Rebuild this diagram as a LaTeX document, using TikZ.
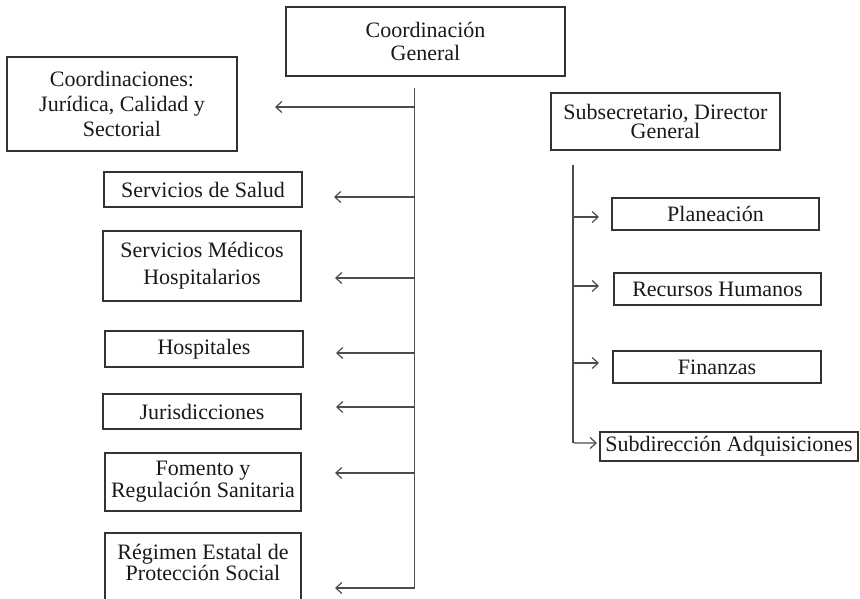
\documentclass[tikz,border=0pt]{standalone}
\usepackage{fontspec}
\setmainfont{Liberation Serif}
\usetikzlibrary{arrows.meta}
\begin{document}
\begin{tikzpicture}[x=1pt,y=-1pt,
  box/.style={draw=black!80, line width=1.1pt, inner sep=0pt, align=center, text=black!90},
  boxline/.style={draw=black!80, line width=1.1pt},
  txt/.style={inner sep=0pt, align=center, text=black!90},
  fs/.style={font=\fontsize{22}{#1}\selectfont},
  trunk/.style={draw=black!70, line width=1.4pt},
  arr/.style={draw=black!70, line width=1.2pt, -{Straight Barb[length=6pt,width=11pt,line width=1.2pt]}}]
\useasboundingbox (0,0) rectangle (860,598);
\fill[white] (0,0) rectangle (860,598);

% top box
\node[box, fs=23, minimum width=279pt, minimum height=69pt] (cg) at (425.5,41.5) {Coordinación\\General};

% left column
\node[box, fs=25, minimum width=230pt, minimum height=94pt] (coord) at (122,104) {Coordinaciones:\\Jurídica, Calidad y\\Sectorial};
\node[box, fs=24, minimum width=198pt, minimum height=35pt] (sal) at (203,189.5) {Servicios de Salud};
\node[box, fs=27, minimum width=198pt, minimum height=70pt] (med) at (202,266) {Servicios Médicos\\Hospitalarios};
\node[box, fs=24, minimum width=198pt, minimum height=36pt] (hos) at (204,349) {Hospitales};
\node[box, fs=24, minimum width=198pt, minimum height=35pt] (jur) at (202,411.5) {Jurisdicciones};
\node[box, fs=22, minimum width=196pt, minimum height=58pt] (fom) at (203,482) {Fomento y\\Regulación Sanitaria};
\node[txt, fs=21] (reg) at (203,562) {Régimen Estatal de\\Protección Social};
\draw[boxline] (105,606) |- (301,533) -- (301,606);

% right column
\node[box, fs=15, minimum width=229pt, minimum height=57pt] (sub) at (665.5,121.5) {Subsecretario, Director\\General};
\node[box, fs=24, minimum width=207pt, minimum height=32pt] (pla) at (715.5,214) {Planeación};
\node[box, fs=24, minimum width=207pt, minimum height=32pt] (rec) at (717.5,289) {Recursos Humanos};
\node[box, fs=24, minimum width=208pt, minimum height=32pt] (fin) at (717,367) {Finanzas};
\node[box, fs=24, minimum width=258pt, minimum height=29pt] (subd) at (729,446.5) {Subdirección Adquisiciones};

% left trunk
\coordinate (ltop) at (414.5,88);
\coordinate (lbot) at (414.5,588);
\coordinate (tcoord) at (275,107);
\coordinate (tsal) at (334,197);
\coordinate (tmed) at (335,278);
\coordinate (thos) at (336,353);
\coordinate (tjur) at (336,407);
\coordinate (tfom) at (335,473);
\coordinate (treg) at (335,588);
\draw[trunk] (ltop) -- (lbot);
\foreach \t in {tcoord,tsal,tmed,thos,tjur,tfom}
  \draw[arr] (ltop |- \t) -- (\t);
\draw[arr] (lbot) -- (treg);

% right trunk
\coordinate (rtop) at (573,165);
\coordinate (rbot) at (573,443);
\coordinate (tpla) at (599,217);
\coordinate (trec) at (599,286);
\coordinate (tfin) at (599,363);
\coordinate (tsubd) at (597,443);
\draw[trunk] (rtop) -- (rbot);
\foreach \t in {tpla,trec,tfin}
  \draw[arr] (rtop |- \t) -- (\t);
\draw[arr, rounded corners=2pt] (573,430) -- (rbot) -- (tsubd);
\end{tikzpicture}
\end{document}
